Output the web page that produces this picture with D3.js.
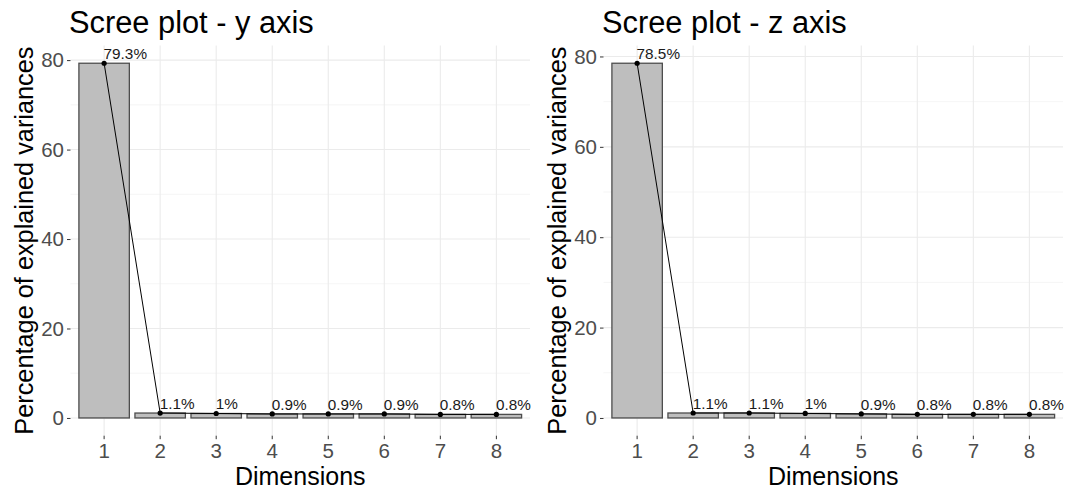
<!DOCTYPE html>
<html>
<head>
<meta charset="utf-8">
<script src="https://cdn.jsdelivr.net/npm/d3@7/dist/d3.min.js"></script>
<style>
  html, body { margin: 0; padding: 0; background: #fff; }
  svg { display: block; font-family: "Liberation Sans", Arial, sans-serif; }
</style>
</head>
<body>
<svg id="chart" width="1080" height="490"></svg>
<script>
// ---- data ----
const dimensions = ["1", "2", "3", "4", "5", "6", "7", "8"];
const titles = ["Scree plot - y axis", "Scree plot - z axis"];
const valuesY = [79.3, 1.1, 1.0, 0.9, 0.9, 0.9, 0.8, 0.8];
const valuesZ = [78.5, 1.1, 1.1, 1.0, 0.9, 0.8, 0.8, 0.8];
const labelsY = ["79.3%", "1.1%", "1%", "0.9%", "0.9%", "0.9%", "0.8%", "0.8%"];
const labelsZ = ["78.5%", "1.1%", "1.1%", "1%", "0.9%", "0.8%", "0.8%", "0.8%"];
const yTicks = [0, 20, 40, 60, 80];
const yMinor = [10, 30, 50, 70];
const xTitle = "Dimensions";
const yTitle = "Percentage of explained variances";

(function () {
const panels = [
  { title: titles[0], values: valuesY, labels: labelsY, offset: 0 },
  { title: titles[1], values: valuesZ, labels: labelsZ, offset: 533 }
];

const svg = d3.select("#chart");
const pTop = 45.5, pBottom = 435.7;
const pLeft = 70.5, pRight = 530;

panels.forEach(p => {
  const g = svg.append("g").attr("transform", `translate(${p.offset},0)`);
  const maxV = d3.max(p.values);
  const y = d3.scaleLinear().domain([-0.05 * maxV, 1.05 * maxV]).range([pBottom, pTop]);
  const x = d3.scaleBand().domain(dimensions).range([pLeft, pRight])
    .paddingInner(0.1).paddingOuter(0.15).align(0.5);
  const cx = d => x(d) + x.bandwidth() / 2;

  // grid
  g.selectAll(".minor").data(yMinor).join("line")
    .attr("x1", pLeft).attr("x2", pRight)
    .attr("y1", d => y(d)).attr("y2", d => y(d))
    .attr("stroke", "#F0F0F0").attr("stroke-width", 0.7);
  g.selectAll(".majorY").data(yTicks).join("line")
    .attr("x1", pLeft).attr("x2", pRight)
    .attr("y1", d => y(d)).attr("y2", d => y(d))
    .attr("stroke", "#EBEBEB").attr("stroke-width", 1.1);
  g.selectAll(".majorX").data(dimensions).join("line")
    .attr("x1", d => cx(d)).attr("x2", d => cx(d))
    .attr("y1", pTop).attr("y2", pBottom)
    .attr("stroke", "#EBEBEB").attr("stroke-width", 1.1);

  // bars
  const data = dimensions.map((d, i) => ({ dim: d, v: p.values[i], label: p.labels[i] }));
  g.selectAll(".bar").data(data).join("rect")
    .attr("x", d => x(d.dim)).attr("width", x.bandwidth())
    .attr("y", d => y(d.v)).attr("height", d => y(0) - y(d.v))
    .attr("fill", "#BEBEBE").attr("stroke", "#4D4D4D").attr("stroke-width", 1.3);

  // line
  const line = d3.line().x(d => cx(d.dim)).y(d => y(d.v));
  g.append("path").datum(data).attr("d", line)
    .attr("fill", "none").attr("stroke", "#000").attr("stroke-width", 1);
  g.selectAll(".pt").data(data).join("circle")
    .attr("cx", d => cx(d.dim)).attr("cy", d => y(d.v)).attr("r", 2.6).attr("fill", "#000");
  g.selectAll(".lbl").data(data).join("text")
    .attr("x", d => cx(d.dim) - 0.5).attr("y", d => y(d.v) - 4)
    .attr("font-size", 15.3).attr("fill", "#1a1a1a").text(d => d.label);

  // axes
  const yAxis = d3.axisLeft(y).tickValues(yTicks).tickSize(3.5).tickPadding(3);
  const ya = g.append("g").attr("transform", `translate(${pLeft},0)`).call(yAxis);
  ya.select(".domain").remove();
  ya.selectAll(".tick line").attr("stroke", "#333");
  ya.selectAll(".tick text").attr("font-size", 20.5).attr("fill", "#4D4D4D")
    .attr("font-family", "Liberation Sans, Arial, sans-serif");

  const xAxis = d3.axisBottom(x).tickSize(3.5).tickPadding(4);
  const xa = g.append("g").attr("transform", `translate(0,${pBottom})`).call(xAxis);
  xa.select(".domain").remove();
  xa.selectAll(".tick line").attr("stroke", "#333");
  xa.selectAll(".tick text").attr("font-size", 20.5).attr("fill", "#4D4D4D")
    .attr("font-family", "Liberation Sans, Arial, sans-serif");

  // titles
  g.append("text").attr("x", pLeft - 1.5).attr("y", 33).attr("font-size", 30.8)
    .attr("fill", "#000").text(p.title);
  g.append("text").attr("x", (pLeft + pRight) / 2).attr("y", 484.5)
    .attr("text-anchor", "middle").attr("font-size", 25).attr("fill", "#000").text(xTitle);
  g.append("text")
    .attr("transform", `translate(33,${(pTop + pBottom) / 2}) rotate(-90)`)
    .attr("text-anchor", "middle").attr("font-size", 25.3).attr("fill", "#000").text(yTitle);
});
})();
</script>
</body>
</html>
